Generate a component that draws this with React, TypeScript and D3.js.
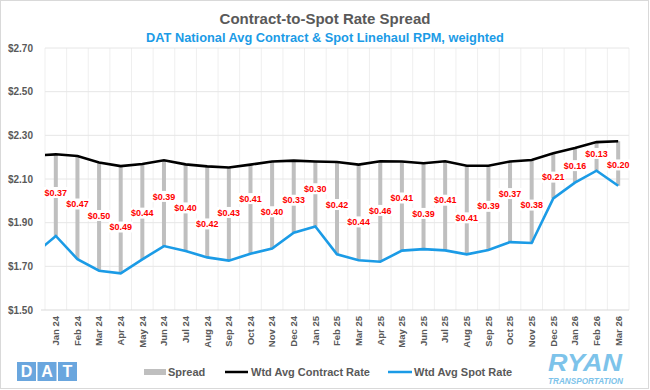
import * as d3 from "d3";

// months Jan 24 .. Mar 26
const months = [
  "Jan 24", "Feb 24", "Mar 24", "Apr 24", "May 24", "Jun 24", "Jul 24", "Aug 24", "Sep 24",
  "Oct 24", "Nov 24", "Dec 24", "Jan 25", "Feb 25", "Mar 25", "Apr 25", "May 25", "Jun 25",
  "Jul 25", "Aug 25", "Sep 25", "Oct 25", "Nov 25", "Dec 25", "Jan 26", "Feb 26", "Mar 26",
];
const contract = [
  2.213, 2.205, 2.176, 2.159, 2.169, 2.186, 2.167, 2.158, 2.153, 2.166, 2.18, 2.184, 2.18, 2.178,
  2.166, 2.181, 2.18, 2.172, 2.181, 2.161, 2.161, 2.18, 2.187, 2.218, 2.242, 2.269, 2.273,
];
const spot = [
  1.839, 1.733, 1.68, 1.668, 1.732, 1.793, 1.77, 1.741, 1.726, 1.758, 1.782, 1.854, 1.883, 1.755,
  1.728, 1.721, 1.772, 1.779, 1.773, 1.755, 1.775, 1.811, 1.807, 2.011, 2.083, 2.138, 2.069,
];
// Dec 23 point, only its tail shows at the left edge
const prevContract = 2.207;
const prevSpot = 1.755;
const yTicks = [1.5, 1.7, 1.9, 2.1, 2.3, 2.5, 2.7];

const GRAY = "#595959";
const BLUE = "#1b9be6";
const FONT = "'Liberation Sans', Arial, sans-serif";

// nudge neighbouring labels apart so the boxes don't collide
function staggerLabels(ys: number[], minSep: number) {
  const out = ys.slice();
  for (let k = 0; k < 60; k++) {
    for (let i = 0; i < out.length - 1; i++) {
      const d = out[i + 1] - out[i];
      if (Math.abs(d) < minSep) {
        const push = (minSep - Math.abs(d)) / 2;
        const dir = d >= 0 ? 1 : -1;
        out[i] -= dir * push;
        out[i + 1] += dir * push;
      }
    }
  }
  return out;
}

export default function App() {
  const left = 45, right = 629, top = 48, bottom = 310;
  const x = d3.scaleBand<string>().domain(months).range([left, right]);
  const bw = x.bandwidth();
  const cx = (i: number) => x(months[i])! + bw / 2;
  const y = d3.scaleLinear().domain([1.5, 2.7]).range([bottom, top]);

  const pts = (vals: number[], prev: number): [number, number][] => [
    [cx(0) - bw, y(prev)],
    ...vals.map((v, i) => [cx(i), y(v)] as [number, number]),
  ];
  const line = d3.line();

  const labelY = staggerLabels(
    months.map((_, i) => (y(contract[i]) + y(spot[i])) / 2),
    11.5
  );

  return (
    <>
      <style>{"body{margin:0}"}</style>
      <svg width={650} height={390} style={{ display: "block", fontFamily: FONT }}>
        <rect x={0.5} y={0.5} width={648} height={388} fill="#fff" stroke="#d9d9d9" />
        <text x={325} y={24} textAnchor="middle" fill={GRAY} fontWeight={700} fontSize={15}>
          Contract-to-Spot Rate Spread
        </text>
        <text x={325} y={42} textAnchor="middle" fill={BLUE} fontWeight={700} fontSize={12.8}>
          DAT National Avg Contract &amp; Spot Linehaul RPM, weighted
        </text>

        <clipPath id="plot">
          <rect x={left} y={top - 10} width={right - left} height={bottom - top + 10} />
        </clipPath>

        {/* grid */}
        {months.map((m) => (
          <line key={m} x1={x(m)! + bw} x2={x(m)! + bw} y1={top} y2={bottom} stroke="#efefef" />
        ))}
        <line x1={left} x2={left} y1={top} y2={bottom} stroke="#efefef" />
        {yTicks.map((t) => (
          <g key={t}>
            <line x1={t === 1.5 ? left - 4 : left} x2={right} y1={y(t)} y2={y(t)}
              stroke={t === 1.5 ? "#d9d9d9" : "#e6e6e6"} />
            <text x={33} y={y(t)} dy="0.35em" textAnchor="end" fill={GRAY} fontWeight={700} fontSize={10}>
              {d3.format("$.2f")(t)}
            </text>
          </g>
        ))}

        {/* spread bars */}
        {months.map((m, i) => (
          <rect key={m} x={cx(i) - 2} width={4} y={y(contract[i])}
            height={y(spot[i]) - y(contract[i])} fill="#bfbfbf" />
        ))}

        <g clipPath="url(#plot)">
          <path d={line(pts(contract, prevContract))!} fill="none" stroke="#000" strokeWidth={2.6} />
          <path d={line(pts(spot, prevSpot))!} fill="none" stroke={BLUE} strokeWidth={2.6} />
        </g>

        {/* spread labels */}
        {months.map((m, i) => {
          const s = Math.round((contract[i] - spot[i]) * 100) / 100;
          return (
            <g key={m}>
              <rect x={cx(i) - 12} y={labelY[i] - 5.5} width={24} height={11} fill="#fff" />
              <text x={cx(i)} y={labelY[i]} dy="0.35em" textAnchor="middle" fill="#ff0000"
                fontWeight={700} fontSize={9}>
                {"$" + s.toFixed(2)}
              </text>
            </g>
          );
        })}

        {/* x labels */}
        {months.map((m, i) => (
          <text key={m} transform={`translate(${cx(i)},316) rotate(-90)`} dy="0.35em"
            textAnchor="end" fill={GRAY} fontSize={9.5} fontWeight={600}>
            {m}
          </text>
        ))}

        {/* legend */}
        <g fontSize={11} fontWeight={700} fill={GRAY}>
          <rect x={144} y={369} width={22} height={6} fill="#bfbfbf" />
          <text x={168} y={372} dy="0.35em">Spread</text>
          <line x1={225} x2={248} y1={372} y2={372} stroke="#000" strokeWidth={2.5} />
          <text x={251} y={372} dy="0.35em">Wtd Avg Contract Rate</text>
          <line x1={388} x2={412} y1={372} y2={372} stroke={BLUE} strokeWidth={2.5} />
          <text x={414} y={372} dy="0.35em">Wtd Avg Spot Rate</text>
        </g>

        {/* DAT logo */}
        {["D", "A", "T"].map((c, i) => (
          <g key={c}>
            <rect x={17 + i * 20.5} y={362} width={19} height={19} fill="#6aa6de" />
            <text x={17 + i * 20.5 + 9.5} y={371.5} dy="0.36em" textAnchor="middle" fill="#fff"
              fontWeight={700} fontSize={16}>
              {c}
            </text>
          </g>
        ))}

        {/* RYAN logo */}
        <text x={585} y={371} textAnchor="middle" fill="#7dc3ea" fontWeight={900} fontStyle="italic"
          fontSize={23} textLength={74} lengthAdjust="spacingAndGlyphs">
          RYAN
        </text>
        <text x={585.5} y={384} textAnchor="middle" fill="#7dc3ea" fontWeight={700} fontStyle="italic"
          fontSize={8.5} textLength={75} lengthAdjust="spacingAndGlyphs">
          TRANSPORTATION
        </text>
      </svg>
    </>
  );
}
